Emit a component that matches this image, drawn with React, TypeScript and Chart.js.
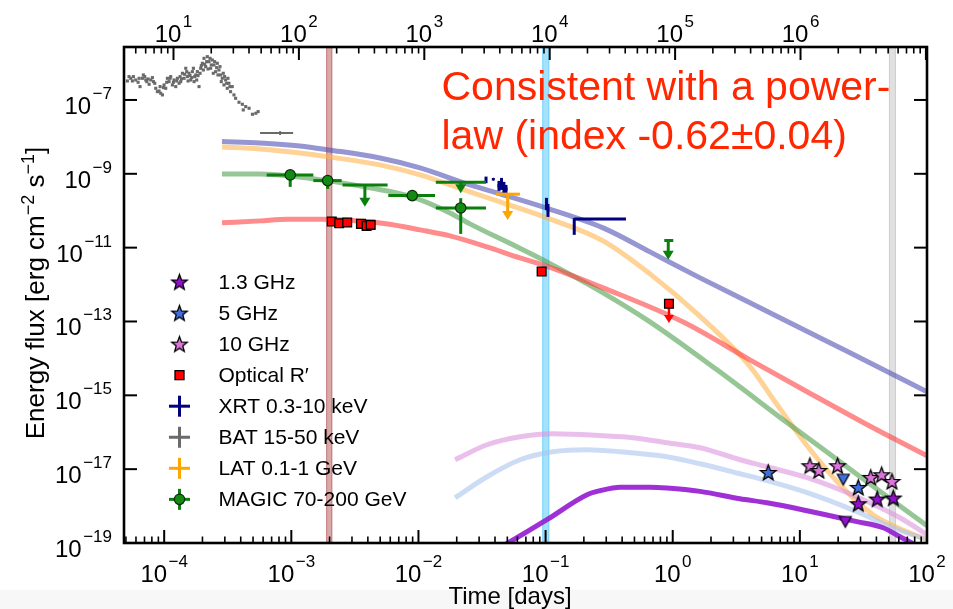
import { useEffect, useRef } from "react";
import { Chart, registerables } from "chart.js";

Chart.register(...registerables);

const FONT = '"Liberation Sans", Arial, Helvetica, sans-serif';

/* ---------- axis ranges ---------- */
const DAY_MIN = 4.83e-5;
const DAY_MAX = 100;
const SEC_MIN = 4.03;
const SEC_MAX = 1.02e7;
const FLUX_MIN = 1e-19;
const FLUX_MAX = 2.72e-6;

const dayDecades = [-4, -3, -2, -1, 0, 1, 2];
const secDecades = [1, 2, 3, 4, 5, 6];
const fluxDecades = [-7, -9, -11, -13, -15, -17, -19];

/* ---------- shaded epochs (days) ---------- */
const bandStart = [1.88e-3, 0.0941, 50.2];
const bandEnd = [2.1e-3, 0.1069, 57.0];

/* ---------- BAT 15-50 keV prompt light curve (seconds, flux in 1e-7 erg cm^-2 s^-1) ---------- */
const batTimeS = [
  4.29, 4.42, 4.56, 4.7, 4.79, 5.0, 5.22, 5.32, 5.41, 5.65, 5.75, 5.9, 6.01, 6.12, 6.27, 6.39,
  6.59, 6.79, 6.92, 7.09, 7.22, 7.44, 7.67, 7.82, 7.91, 8.16, 8.31, 8.41, 8.67, 8.83, 8.94, 9.22,
  9.39, 9.5, 9.8, 9.98, 10.1, 10.42, 10.61, 10.74, 11.08, 11.28, 11.42, 11.56, 11.78, 12.14, 12.29,
  12.52, 12.75, 12.91, 13.07, 13.31, 13.55, 13.72, 13.97, 14.15, 14.41, 14.59, 14.76, 15.04, 15.31,
  15.5, 15.69, 15.98, 16.28, 16.48, 16.68, 16.99, 17.3, 17.51, 17.73, 18.06, 18.39, 18.61, 18.84,
  19.19, 19.55, 19.78, 20.03, 20.4, 20.77, 21.03, 21.29, 21.68, 22.08, 22.35, 22.63, 23.04, 23.47,
  23.76, 24.05, 24.49, 24.94, 25.25, 25.56, 26.03, 26.51, 26.84, 27.17, 27.67, 28.18, 28.52, 29.41,
  30.34, 31.29, 33.28, 35.4, 36.0, 37.66, 40.06, 42.61, 45.33, 47.3,
];
const batFlux7 = [
  3.27, 4.29, 3.86, 3.27, 4.29, 3.48, 3.01, 3.86, 2.3, 3.86, 4.76, 4.29, 3.48, 3.14, 3.71, 2.66,
  3.48, 4.03, 3.14, 2.83, 2.07, 1.68, 1.75, 2.3, 1.52, 1.37, 2.16, 2.55, 2.07, 3.01, 3.86, 3.14,
  3.86, 4.29, 2.55, 3.01, 3.48, 2.3, 3.27, 3.86, 2.83, 4.29, 3.14, 3.71, 5.28, 3.86, 4.96,
  7.21, 5.85, 4.29, 3.27, 5.28, 4.56, 3.48, 4.03, 5.85, 7.21, 3.14, 4.29, 4.76, 3.48,
  5.85, 4.56, 2.3, 5.28, 7.21, 8.51, 9.84, 6.49, 13.4, 9.25, 8.0, 10.9, 14.9, 6.91,
  10.9, 13.4, 7.21, 8.87, 12.1, 5.28, 8.87, 10.9, 5.85, 7.51, 9.84, 4.76, 6.49, 8.0,
  4.76, 3.14, 3.86, 5.28, 2.55, 4.29, 3.48, 2.83, 2.07, 3.86, 2.83, 2.3, 1.68, 2.3,
  1.37, 1.11, 0.866, 0.764, 0.537, 0.661, 0.596, 0.41, 0.436, 0.484,
];
/* BAT averaged interval (seconds) */
const batAvgS = [70.8];
const batAvgSLo = [49.0];
const batAvgSHi = [89.9];
const batAvgF = [1.28e-8];

/* ---------- XRT 0.3-10 keV (days, erg cm^-2 s^-1) ---------- */
const xrtT = [0.034, 0.0388, 0.043, 0.045, 0.047, 0.0488, 0.1016, 0.1044, 0.168, 0.1864];
const xrtTLo = [0.0335, 0.0384, 0.0418, 0.0437, 0.0456, 0.0474, 0.0995, 0.1023, 0.1675, 0.168];
const xrtTHi = [0.0345, 0.0392, 0.0442, 0.0463, 0.0484, 0.0502, 0.1037, 0.1065, 0.1685, 0.4287];
const xrtF = [6.84e-10, 7.14e-10, 4.7e-10, 5.33e-10, 4.42e-10, 3.9e-10, 1.53e-10, 1.05e-10, 3.72e-11, 6.0e-11];
const xrtFLo = [5.57e-10, 6.6e-10, 3.44e-10, 3.66e-10, 3.04e-10, 3.04e-10, 1.05e-10, 6.81e-11, 2.22e-11, 5.6e-11];
const xrtFHi = [8.4e-10, 7.7e-10, 6.43e-10, 7.74e-10, 6.04e-10, 5.0e-10, 2.23e-10, 1.53e-10, 6.28e-11, 6.4e-11];

/* ---------- LAT 0.1-1 GeV upper limit ---------- */
const latT = [0.0503];
const latTLo = [0.0407];
const latTHi = [0.0628];
const latF = [2.81e-10];
const latArrowTo = [5.65e-11];

/* ---------- MAGIC 70-200 GeV ---------- */
const magicT = [9.8e-4, 1.93e-3, 8.94e-3, 2.15e-2];
const magicTLo = [6.4e-4, 1.49e-3, 5.79e-3, 1.37e-2];
const magicTHi = [1.49e-3, 2.49e-3, 1.35e-2, 3.4e-2];
const magicF = [9.33e-10, 6.55e-10, 2.57e-10, 1.19e-10];
const magicFLo = [4.42e-10, 3.9e-10, 1.97e-10, 2.36e-11];
const magicFHi = [1.1e-9, 7.6e-10, 3.3e-10, 2.19e-10];
const magicUlT = [3.79e-3, 2.15e-2, 0.922];
const magicUlTLo = [2.53e-3, 1.37e-2, 0.858];
const magicUlTHi = [5.72e-3, 3.4e-2, 1.01];
const magicUlF = [5.0e-10, 5.93e-10, 1.56e-11];
const magicUlArrowTo = [1.29e-10, 2.99e-10, 4.67e-12];

/* ---------- Optical R' ---------- */
const optT = [2.08e-3, 2.38e-3, 2.75e-3, 3.53e-3, 3.91e-3, 4.21e-3, 9.31e-2];
const optF = [5.08e-11, 4.6e-11, 4.78e-11, 4.41e-11, 3.89e-11, 4.14e-11, 2.25e-12];
const optUlT = [0.934];
const optUlF = [3.01e-13];
const optUlArrowTo = [9.04e-14];

/* ---------- Radio ---------- */
const r13T = [28.8, 40.6, 54.3];
const r13F = [1.16e-18, 1.55e-18, 1.65e-18];
const r13UlT = [22.8];
const r13UlF = [3.7e-19];
const r5T = [5.64, 28.8];
const r5F = [8.15e-18, 3.2e-18];
const r5UlT = [21.96];
const r5UlF = [5.17e-18];
const r10T = [12.0, 14.1, 19.8, 36.1, 44.0, 53.0];
const r10F = [1.24e-17, 9.2e-18, 1.24e-17, 5.97e-18, 7.06e-18, 4.65e-18];

/* ---------- afterglow model curves ---------- */
const xrtModelT = [2.85e-4, 5.67e-4, 1.17e-3, 1.98e-3, 4.98e-3, 1.03e-2, 2.54e-2, 4.38e-2, 0.102, 0.283, 0.662, 1.64, 4.05, 10.0, 24.8, 100];
const xrtModelF = [7.45e-9, 6.85e-9, 5.69e-9, 4.44e-9, 2.69e-9, 1.45e-9, 5.0e-10, 2.86e-10, 1.17e-10, 3.43e-11, 7.69e-12, 1.52e-12, 3.2e-13, 6.73e-14, 1.42e-14, 1.25e-15];

const latModelT = [2.85e-4, 5.67e-4, 1.17e-3, 1.98e-3, 4.98e-3, 1.03e-2, 2.54e-2, 4.38e-2, 0.1025, 0.283, 0.662, 1.64, 4.05, 6.14, 11.4, 20.7, 37.6, 69.6, 100];
const latModelF = [5.35e-9, 4.72e-9, 3.68e-9, 2.87e-9, 1.74e-9, 9.33e-10, 3.24e-10, 1.73e-10, 6.4e-11, 1.53e-11, 1.95e-12, 1.38e-13, 6.11e-15, 8.05e-16, 4.31e-17, 3.78e-18, 5.83e-19, 2.02e-19, 1.23e-19];

const magicModelT = [2.85e-4, 5.67e-4, 9.76e-4, 1.98e-3, 4.16e-3, 8.89e-3, 1.77e-2, 2.54e-2, 5.54e-2, 9.54e-2, 0.283, 0.662, 2.23, 8.36, 20.7, 51.2, 100];
const magicModelF = [9.93e-10, 9.93e-10, 8.77e-10, 6.43e-10, 4.15e-10, 2.37e-10, 8.73e-11, 4.41e-11, 1.19e-11, 4.67e-12, 5.97e-13, 9.79e-14, 4.91e-15, 1.59e-16, 1.59e-17, 1.58e-18, 2.94e-19];

const optModelT = [2.85e-4, 5.67e-4, 9.24e-4, 1.68e-3, 3.05e-3, 5.55e-3, 1.03e-2, 1.77e-2, 3.46e-2, 6.29e-2, 9.54e-2, 0.283, 1.2, 4.05, 11.4, 37.6, 100];
const optModelF = [4.69e-11, 5.31e-11, 5.83e-11, 5.83e-11, 5.41e-11, 4.41e-11, 3.03e-11, 2.08e-11, 1.05e-11, 5.28e-12, 3.42e-12, 8.15e-13, 9.79e-14, 9.16e-15, 1.25e-15, 1.32e-16, 2.31e-17];

const r10ModelT = [1.94e-2, 3.46e-2, 6.29e-2, 0.114, 0.283, 0.487, 0.901, 1.64, 3.38, 5.51, 11.4, 20.7, 35.6, 61.3, 100];
const r10ModelF = [1.8e-17, 4.58e-17, 7.55e-17, 9.1e-17, 8.04e-17, 7.1e-17, 5.19e-17, 3.8e-17, 1.8e-17, 1.16e-17, 5.86e-18, 2.77e-18, 1.23e-18, 4.84e-19, 1.68e-19];

const r5ModelT = [1.94e-2, 3.46e-2, 6.29e-2, 0.114, 0.212, 0.385, 0.901, 1.64, 3.38, 5.51, 11.4, 28.1, 51.2, 100];
const r5ModelF = [1.68e-18, 6.24e-18, 1.8e-17, 2.97e-17, 3.36e-17, 2.97e-17, 2.17e-17, 1.4e-17, 7.52e-18, 4.87e-18, 2.3e-18, 7.03e-19, 2.76e-19, 1.23e-19];

const r13ModelT = [3.65e-2, 5.06e-2, 0.1025, 0.212, 0.268, 0.385, 0.662, 0.901, 1.64, 3.38, 5.51, 11.4, 28.1, 45.1, 61.3, 80.4];
const r13ModelF = [5.26e-20, 1.0e-19, 4.28e-19, 2.03e-18, 2.61e-18, 3.25e-18, 3.25e-18, 3.09e-18, 2.5e-18, 1.58e-18, 1.23e-18, 7.48e-19, 3.78e-19, 2.59e-19, 1.48e-19, 9.0e-20];

/* ---------- text ---------- */
const legendLabels = ["1.3 GHz", "5 GHz", "10 GHz", "Optical R\u2032", "XRT 0.3-10 keV", "BAT 15-50 keV", "LAT 0.1-1 GeV", "MAGIC 70-200 GeV"];
const noteLines = ["Consistent with a power-", "law (index -0.62\u00b10.04)"];

/* ---------- styles ---------- */
const C_R13 = "#9410d0";
const C_R5 = "#3f6fdc";
const C_R10 = "#dc74dc";
const C_OPT = "#ff0000";
const C_XRT = "#000080";
const C_BAT = "#6a6a6a";
const C_LAT = "#ffa500";
const C_MAGIC = "#0b7f0b";
const BAND_FILL = ["rgba(165,50,50,0.42)", "rgba(90,200,245,0.55)", "rgba(180,180,180,0.42)"];
const TICK_PX = 24;
const EXP_PX = 17;
const TITLE_PX = 26;
const TITLE_SUP_PX = 18;

const pts = (t: number[], f: number[], k = 1) => t.map((x, i) => ({ x, y: f[i] * k }));

function makeStar(fill: string, outer: number) {
  const size = Math.ceil(outer * 2 + 4);
  const c = document.createElement("canvas");
  c.width = size;
  c.height = size;
  const g = c.getContext("2d")!;
  const cx = size / 2;
  const cy = size / 2 + outer * 0.08;
  const inner = outer * 0.42;
  g.beginPath();
  for (let i = 0; i < 10; i++) {
    const r = i % 2 === 0 ? outer : inner;
    const a = -Math.PI / 2 + (i * Math.PI) / 5;
    const px = cx + r * Math.cos(a);
    const py = cy + r * Math.sin(a);
    if (i === 0) g.moveTo(px, py);
    else g.lineTo(px, py);
  }
  g.closePath();
  g.fillStyle = fill;
  g.fill();
  g.lineJoin = "miter";
  g.lineWidth = 1.3;
  g.strokeStyle = "#000";
  g.stroke();
  return c;
}

function makeTriDown(fill: string, w: number) {
  const h = w * 0.9;
  const c = document.createElement("canvas");
  c.width = Math.ceil(w + 4);
  c.height = Math.ceil(h + 4);
  const g = c.getContext("2d")!;
  g.beginPath();
  g.moveTo(2, 2);
  g.lineTo(2 + w, 2);
  g.lineTo(2 + w / 2, 2 + h);
  g.closePath();
  g.fillStyle = fill;
  g.fill();
  g.lineWidth = 1.2;
  g.strokeStyle = "#000";
  g.stroke();
  return c;
}

function seg(ctx: CanvasRenderingContext2D, x0: number, y0: number, x1: number, y1: number) {
  ctx.beginPath();
  ctx.moveTo(x0, y0);
  ctx.lineTo(x1, y1);
  ctx.stroke();
}

function arrowDown(ctx: CanvasRenderingContext2D, x: number, y0: number, y1: number, color: string, lw: number, hw: number, hh: number) {
  ctx.strokeStyle = color;
  ctx.fillStyle = color;
  ctx.lineWidth = lw;
  seg(ctx, x, y0, x, y1 - hh + 1);
  ctx.beginPath();
  ctx.moveTo(x - hw / 2, y1 - hh);
  ctx.lineTo(x + hw / 2, y1 - hh);
  ctx.lineTo(x, y1);
  ctx.closePath();
  ctx.fill();
}

function errBars(chart: any, xs: any, T: number[], TLo: number[], THi: number[], F: number[], FLo: number[], FHi: number[], color: string, lw: number) {
  const ctx = chart.ctx;
  const ys = chart.scales.y;
  ctx.strokeStyle = color;
  ctx.lineWidth = lw;
  ctx.lineCap = "butt";
  T.forEach((t, i) => {
    const px = xs.getPixelForValue(t);
    const py = ys.getPixelForValue(F[i]);
    seg(ctx, xs.getPixelForValue(TLo[i]), py, xs.getPixelForValue(THi[i]), py);
    seg(ctx, px, ys.getPixelForValue(FLo[i]), px, ys.getPixelForValue(FHi[i]));
  });
}

const overlays: Record<string, (chart: any) => void> = {
  "BAT average": (chart) => {
    errBars(chart, chart.scales.x2, batAvgS, batAvgSLo, batAvgSHi, batAvgF, batAvgF.map((f) => f * 0.88), batAvgF.map((f) => f * 1.12), C_BAT, 2);
  },
  XRT: (chart) => {
    errBars(chart, chart.scales.x, xrtT, xrtTLo, xrtTHi, xrtF, xrtFLo, xrtFHi, C_XRT, 3);
  },
  "LAT UL": (chart) => {
    const { ctx, scales } = chart;
    latT.forEach((t, i) => {
      const py = scales.y.getPixelForValue(latF[i]);
      ctx.strokeStyle = C_LAT;
      ctx.lineWidth = 3;
      seg(ctx, scales.x.getPixelForValue(latTLo[i]), py, scales.x.getPixelForValue(latTHi[i]), py);
      arrowDown(ctx, scales.x.getPixelForValue(t), py, scales.y.getPixelForValue(latArrowTo[i]), C_LAT, 3, 11, 9);
    });
  },
  "MAGIC UL": (chart) => {
    const { ctx, scales } = chart;
    magicUlT.forEach((t, i) => {
      const py = scales.y.getPixelForValue(magicUlF[i]);
      ctx.strokeStyle = C_MAGIC;
      ctx.lineWidth = 3;
      seg(ctx, scales.x.getPixelForValue(magicUlTLo[i]), py, scales.x.getPixelForValue(magicUlTHi[i]), py);
      arrowDown(ctx, scales.x.getPixelForValue(t), py, scales.y.getPixelForValue(magicUlArrowTo[i]), C_MAGIC, 3, 11, 9);
    });
  },
  MAGIC: (chart) => {
    errBars(chart, chart.scales.x, magicT, magicTLo, magicTHi, magicF, magicFLo, magicFHi, C_MAGIC, 3);
  },
  "Optical UL": (chart) => {
    const { ctx, scales } = chart;
    optUlT.forEach((t, i) => {
      arrowDown(ctx, scales.x.getPixelForValue(t), scales.y.getPixelForValue(optUlF[i]), scales.y.getPixelForValue(optUlArrowTo[i]), C_OPT, 2.5, 10, 8);
    });
  },
};

function powLabel(ctx: CanvasRenderingContext2D, e: number, anchorX: number, baseY: number, align: "center" | "right") {
  const exp = (e < 0 ? "\u2212" : "") + Math.abs(e);
  const baseFont = `${TICK_PX}px ${FONT}`;
  const expFont = `${EXP_PX}px ${FONT}`;
  ctx.font = baseFont;
  const wb = ctx.measureText("10").width;
  ctx.font = expFont;
  const we = ctx.measureText(exp).width;
  const gap = 1.5;
  const total = wb + gap + we;
  const left = align === "center" ? anchorX - total / 2 : anchorX - total;
  ctx.textAlign = "left";
  ctx.textBaseline = "alphabetic";
  ctx.font = baseFont;
  ctx.fillText("10", left, baseY);
  ctx.font = expFont;
  ctx.fillText(exp, left + wb + gap, baseY - 15);
}

function drawAxes(chart: any) {
  const { ctx, chartArea: a, scales } = chart;
  ctx.save();
  ctx.strokeStyle = "#000";
  ctx.fillStyle = "#000";
  ctx.lineCap = "butt";
  // bottom axis ticks (days)
  for (let e = -5; e <= 2; e++) {
    for (let k = 1; k < 10; k++) {
      const v = k * Math.pow(10, e);
      if (v < DAY_MIN || v > DAY_MAX * 1.0001) continue;
      const px = scales.x.getPixelForValue(v);
      ctx.lineWidth = k === 1 ? 2 : 1.6;
      seg(ctx, px, a.bottom, px, a.bottom - (k === 1 ? 13 : 6.5));
    }
  }
  // top axis ticks (seconds)
  for (let e = 0; e <= 7; e++) {
    for (let k = 1; k < 10; k++) {
      const v = k * Math.pow(10, e);
      if (v < SEC_MIN || v > SEC_MAX) continue;
      const px = scales.x2.getPixelForValue(v);
      ctx.lineWidth = k === 1 ? 2 : 1.6;
      seg(ctx, px, a.top, px, a.top + (k === 1 ? 13 : 6.5));
    }
  }
  // flux ticks on both sides
  fluxDecades.forEach((e) => {
    const py = scales.y.getPixelForValue(Math.pow(10, e));
    ctx.lineWidth = 2;
    seg(ctx, a.left, py, a.left + 13, py);
    seg(ctx, a.right, py, a.right - 13, py);
  });
  // frame
  ctx.lineWidth = 2.6;
  ctx.strokeRect(a.left, a.top, a.right - a.left, a.bottom - a.top);

  // tick labels
  dayDecades.forEach((e) => powLabel(ctx, e, scales.x.getPixelForValue(Math.pow(10, e)), a.bottom + 38.5, "center"));
  secDecades.forEach((e) => powLabel(ctx, e, scales.x2.getPixelForValue(Math.pow(10, e)), a.top - 5.5, "center"));
  fluxDecades.forEach((e) => powLabel(ctx, e, a.left - 12, scales.y.getPixelForValue(Math.pow(10, e)) + 14, "right"));

  // axis titles
  ctx.font = `24px ${FONT}`;
  ctx.textAlign = "center";
  ctx.textBaseline = "alphabetic";
  ctx.fillText("Time [days]", 510, 604);

  ctx.save();
  ctx.translate(44, 293);
  ctx.rotate(-Math.PI / 2);
  const parts: [string, boolean][] = [["Energy flux [erg cm", false], ["\u22122", true], [" s", false], ["\u22121", true], ["]", false]];
  let total = 0;
  parts.forEach(([s, sup]) => {
    ctx.font = sup ? `${TITLE_SUP_PX}px ${FONT}` : `${TITLE_PX}px ${FONT}`;
    total += ctx.measureText(s).width;
  });
  let cx = -total / 2;
  ctx.textAlign = "left";
  parts.forEach(([s, sup]) => {
    ctx.font = sup ? `${TITLE_SUP_PX}px ${FONT}` : `${TITLE_PX}px ${FONT}`;
    ctx.fillText(s, cx, sup ? -10 : 0);
    cx += ctx.measureText(s).width;
  });
  ctx.restore();
  ctx.restore();
}

function drawLegend(chart: any, icons: any) {
  const ctx: CanvasRenderingContext2D = chart.ctx;
  const mx = 179.5;
  const tx = 218.5;
  ctx.save();
  legendLabels.forEach((label, i) => {
    const y = 282 + i * 31.05;
    if (i < 3) {
      const img = [icons.s13, icons.s5, icons.s10][i];
      ctx.drawImage(img, mx - img.width / 2, y - img.height / 2);
    } else if (i === 3) {
      ctx.fillStyle = C_OPT;
      ctx.fillRect(mx - 4.5, y - 4.5, 9, 9);
      ctx.strokeStyle = "#000";
      ctx.lineWidth = 1.3;
      ctx.strokeRect(mx - 4.5, y - 4.5, 9, 9);
    } else {
      const col = [C_XRT, C_BAT, C_LAT, C_MAGIC][i - 4];
      ctx.strokeStyle = col;
      ctx.lineWidth = 3;
      seg(ctx, mx - 10.5, y, mx + 10.5, y);
      seg(ctx, mx, y - 10.5, mx, y + 10.5);
      if (i === 7) {
        ctx.beginPath();
        ctx.arc(mx, y, 5.2, 0, Math.PI * 2);
        ctx.fillStyle = "#138a13";
        ctx.fill();
        ctx.strokeStyle = "#0a2a0a";
        ctx.lineWidth = 1.2;
        ctx.stroke();
      }
    }
    ctx.fillStyle = "#000";
    ctx.font = `21px ${FONT}`;
    ctx.textAlign = "left";
    ctx.textBaseline = "middle";
    ctx.fillText(label, tx, y + 1);
  });
  ctx.restore();
}

function drawNote(chart: any) {
  const ctx: CanvasRenderingContext2D = chart.ctx;
  ctx.save();
  ctx.fillStyle = "rgb(255,38,0)";
  ctx.font = `41px ${FONT}`;
  ctx.textAlign = "left";
  ctx.textBaseline = "alphabetic";
  ctx.fillText(noteLines[0], 441.5, 100);
  ctx.fillText(noteLines[1], 441.5, 149);
  ctx.restore();
}

export default function App() {
  const ref = useRef<HTMLCanvasElement>(null);

  useEffect(() => {
    document.body.style.margin = "0";
    const canvas = ref.current!;
    const icons = {
      s13: makeStar(C_R13, 8.2),
      s5: makeStar(C_R5, 8.2),
      s10: makeStar(C_R10, 8.2),
      t13: makeTriDown(C_R13, 12),
      t5: makeTriDown(C_R5, 12),
    };

    const curve = (label: string, t: number[], f: number[], color: string, width: number) => ({
      label,
      data: pts(t, f),
      borderColor: color,
      borderWidth: width,
      pointRadius: 0,
      showLine: true,
      fill: false,
      cubicInterpolationMode: "monotone",
      order: 10,
      clip: 0,
      xAxisID: "x",
      yAxisID: "y",
    });
    const marks = (label: string, data: any[], extra: any = {}, xAxisID = "x") => ({
      label,
      data,
      showLine: false,
      order: 0,
      xAxisID,
      yAxisID: "y",
      pointRadius: 0,
      borderWidth: 0,
      ...extra,
    });

    const decor = {
      id: "decor",
      beforeDraw(c: any) {
        const { ctx, width, height } = c;
        ctx.save();
        ctx.fillStyle = "#ffffff";
        ctx.fillRect(0, 0, width, height);
        ctx.fillStyle = "#f7f7f7";
        ctx.fillRect(0, 590, width, height - 590);
        ctx.restore();
      },
      beforeDatasetsDraw(c: any) {
        const { ctx, chartArea: a, scales } = c;
        ctx.save();
        bandStart.forEach((s, i) => {
          const x0 = scales.x.getPixelForValue(s);
          const x1 = scales.x.getPixelForValue(bandEnd[i]);
          ctx.fillStyle = BAND_FILL[i];
          ctx.fillRect(x0, a.top, x1 - x0, a.bottom - a.top);
          ctx.strokeStyle = BAND_FILL[i];
          ctx.lineWidth = 1;
          ctx.strokeRect(x0 + 0.5, a.top, x1 - x0 - 1, a.bottom - a.top);
        });
        ctx.restore();
      },
      beforeDatasetDraw(c: any, args: any) {
        const ds = c.data.datasets[args.index];
        const fn = overlays[ds.label];
        if (!fn) return;
        const a = c.chartArea;
        c.ctx.save();
        c.ctx.beginPath();
        c.ctx.rect(a.left, a.top, a.right - a.left, a.bottom - a.top);
        c.ctx.clip();
        fn(c);
        c.ctx.restore();
      },
      afterDraw(c: any) {
        drawAxes(c);
        drawLegend(c, icons);
        drawNote(c);
      },
    };

    const chart = new Chart(canvas, {
      type: "line",
      data: {
        datasets: [
          marks("10 GHz", pts(r10T, r10F), { pointStyle: icons.s10, pointRadius: 8 }),
          marks("5 GHz", pts(r5T, r5F), { pointStyle: icons.s5, pointRadius: 8 }),
          marks("1.3 GHz", pts(r13T, r13F), { pointStyle: icons.s13, pointRadius: 8 }),
          marks("5 GHz UL", pts(r5UlT, r5UlF), { pointStyle: icons.t5, pointRadius: 6 }),
          marks("1.3 GHz UL", pts(r13UlT, r13UlF), { pointStyle: icons.t13, pointRadius: 6 }),
          marks("Optical", pts(optT, optF), { pointStyle: "rect", pointRadius: 6.2, backgroundColor: C_OPT, borderColor: "#000", borderWidth: 1.3 }),
          marks("Optical UL", pts(optUlT, optUlF), { pointStyle: "rect", pointRadius: 6.2, backgroundColor: C_OPT, borderColor: "#000", borderWidth: 1.3 }),
          marks("MAGIC", pts(magicT, magicF), { pointStyle: "circle", pointRadius: 5.2, backgroundColor: "#138a13", borderColor: "#0a2a0a", borderWidth: 1.2 }),
          marks("MAGIC UL", pts(magicUlT, magicUlF)),
          marks("LAT UL", pts(latT, latF)),
          marks("XRT", pts(xrtT, xrtF)),
          marks("BAT average", pts(batAvgS, batAvgF), {}, "x2"),
          marks("BAT 15-50 keV", pts(batTimeS, batFlux7, 1e-7), { pointStyle: "rect", pointRadius: 2.2, backgroundColor: C_BAT }, "x2"),
          curve("1.3 GHz model", r13ModelT, r13ModelF, "rgba(150,30,210,0.92)", 5),
          curve("5 GHz model", r5ModelT, r5ModelF, "rgba(172,197,238,0.6)", 5),
          curve("10 GHz model", r10ModelT, r10ModelF, "rgba(222,148,222,0.6)", 5),
          curve("Optical model", optModelT, optModelF, "rgba(255,63,63,0.6)", 5),
          curve("MAGIC model", magicModelT, magicModelF, "rgba(80,160,80,0.6)", 5),
          curve("LAT model", latModelT, latModelF, "rgba(255,180,80,0.6)", 5),
          curve("XRT model", xrtModelT, xrtModelF, "rgba(80,80,180,0.6)", 5),
        ] as any,
      },
      options: {
        responsive: false,
        maintainAspectRatio: false,
        devicePixelRatio: 1,
        animation: false,
        events: [],
        layout: { padding: { left: 124, right: 26, top: 47, bottom: 66 } },
        plugins: { legend: { display: false }, tooltip: { enabled: false } },
        scales: {
          x: { type: "logarithmic", min: DAY_MIN, max: DAY_MAX, display: false },
          x2: { type: "logarithmic", position: "top", min: SEC_MIN, max: SEC_MAX, display: false },
          y: { type: "logarithmic", min: FLUX_MIN, max: FLUX_MAX, display: false },
        },
      } as any,
      plugins: [decor],
    });
    return () => chart.destroy();
  }, []);

  return (
    <div style={{ position: "fixed", left: 0, top: 0, width: 953, height: 609, background: "#fff" }}>
      <canvas ref={ref} width={953} height={609} style={{ display: "block", width: 953, height: 609 }} />
    </div>
  );
}
